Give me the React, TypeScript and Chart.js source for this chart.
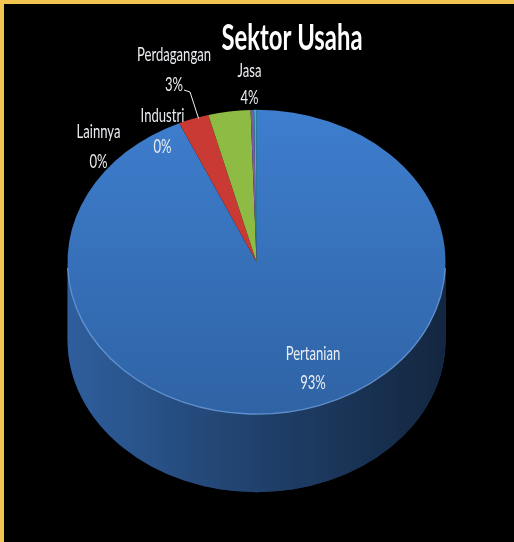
import { useEffect, useRef } from "react";
import { Chart, registerables } from "chart.js";

Chart.register(...registerables);

// ---- data ----
const chartTitle = "Sektor Usaha";
const sectors = ["Pertanian", "Perdagangan", "Jasa", "Industri", "Lainnya"];
const shares = [93.3, 2.6, 3.6, 0.3, 0.2];
const sliceColors = ["#3a76c4", "#c83a33", "#8dbb44", "#7d5aa6", "#39b3d6"];

// ---- style / layout ----
const W = 510;
const H = 538;
const TILT = 0.805; // vertical squash of the pie face
const DEPTH = 78; // thickness of the 3D side wall
const LABEL_FONT = '19px Lato, "Open Sans", sans-serif';
const TITLE_FONT = 'bold 36px Lato, "Open Sans", sans-serif';
const LABEL_REF_WIDTH = 74; // width of "Perdagangan" in the reference
const TITLE_WIDTH = 141;
// label placement: centre x, baseline of name line, baseline of percent line (canvas coords)
const labelAnchors: [number, number, number][] = [
  [309, 356, 385],
  [170, 57, 87],
  [245.5, 73, 99.5],
  [158.5, 118, 149],
  [94.5, 134, 163.5],
];

function drawSquashed(ctx: CanvasRenderingContext2D, text: string, x: number, y: number, sx: number) {
  ctx.save();
  ctx.translate(x, y);
  ctx.scale(sx, 1);
  ctx.fillText(text, 0, 0);
  ctx.restore();
}

const pie3d = {
  id: "pie3d",
  beforeDatasetsDraw(chart: any) {
    const meta = chart.getDatasetMeta(0);
    const a0 = meta.data[0];
    const { x: cx, y: cy, outerRadius: R } = a0.getProps(["x", "y", "outerRadius"], true);
    const ry = R * TILT;
    const ctx: CanvasRenderingContext2D = chart.ctx;
    ctx.save();
    meta.data.forEach((arc: any, i: number) => {
      const { startAngle, endAngle } = arc.getProps(["startAngle", "endAngle"], true);
      for (const off of [0, -2 * Math.PI, 2 * Math.PI]) {
        const s = Math.max(startAngle + off, 0);
        const e = Math.min(endAngle + off, Math.PI);
        if (e <= s) continue;
        const path = () => {
          ctx.beginPath();
          ctx.ellipse(cx, cy, R, ry, 0, s, e, false);
          ctx.ellipse(cx, cy + DEPTH, R, ry, 0, e, s, true);
          ctx.closePath();
        };
        path();
        ctx.fillStyle = sliceColors[i];
        ctx.fill();
        const g = ctx.createLinearGradient(cx - R, 0, cx + R, 0);
        g.addColorStop(0, "rgba(0,0,0,0.2)");
        g.addColorStop(0.5, "rgba(0,0,0,0.45)");
        g.addColorStop(1, "rgba(0,0,0,0.68)");
        path();
        ctx.fillStyle = g;
        ctx.fill();
      }
    });
    ctx.restore();
    ctx.save();
    ctx.translate(0, cy);
    ctx.scale(1, TILT);
    ctx.translate(0, -cy);
  },
  afterDatasetsDraw(chart: any) {
    const ctx: CanvasRenderingContext2D = chart.ctx;
    ctx.restore();
    const meta = chart.getDatasetMeta(0);
    const { x: cx, y: cy, outerRadius: R } = meta.data[0].getProps(["x", "y", "outerRadius"], true);
    const ry = R * TILT;

    // front rim highlight
    ctx.save();
    ctx.beginPath();
    ctx.ellipse(cx, cy, R, ry, 0, 0.04, Math.PI - 0.04);
    ctx.strokeStyle = "rgba(115,165,230,0.75)";
    ctx.lineWidth = 1.3;
    ctx.stroke();
    ctx.restore();

    // title
    ctx.save();
    ctx.fillStyle = "#ffffff";
    ctx.font = TITLE_FONT;
    ctx.textAlign = "center";
    ctx.textBaseline = "alphabetic";
    const tsx = TITLE_WIDTH / ctx.measureText(chartTitle).width;
    drawSquashed(ctx, chartTitle, 288, 46, tsx);
    ctx.restore();

    // data labels
    const data: number[] = chart.data.datasets[0].data;
    const total = data.reduce((a, b) => a + b, 0);
    ctx.save();
    ctx.font = LABEL_FONT;
    ctx.textAlign = "center";
    ctx.textBaseline = "alphabetic";
    ctx.fillStyle = "#e9ecf0";
    const lsx = LABEL_REF_WIDTH / ctx.measureText(String(chart.data.labels[1])).width;
    data.forEach((v, i) => {
      const [lx, y1, y2] = labelAnchors[i];
      drawSquashed(ctx, String(chart.data.labels[i]), lx, y1, lsx);
      drawSquashed(ctx, Math.round((v / total) * 100) + "%", lx, y2, lsx);
    });
    ctx.restore();

    // leader line for Perdagangan
    const arc = meta.data[1];
    const { startAngle, endAngle } = arc.getProps(["startAngle", "endAngle"], true);
    const mid = (startAngle + endAngle) / 2;
    const ex = cx + R * Math.cos(mid);
    const ey = cy + ry * Math.sin(mid);
    const [lx, , y2] = labelAnchors[1];
    ctx.save();
    ctx.beginPath();
    ctx.moveTo(lx + 10, y2 - 1);
    ctx.lineTo(lx + 16, y2 + 1);
    ctx.lineTo(ex + 5, ey);
    ctx.strokeStyle = "#f0f0f0";
    ctx.lineWidth = 1;
    ctx.stroke();
    ctx.restore();
  },
};

export default function App() {
  const ref = useRef<HTMLCanvasElement>(null);
  useEffect(() => {
    const canvas = ref.current!;
    const chart = new Chart(canvas, {
      type: "pie",
      data: {
        labels: sectors,
        datasets: [
          {
            data: shares,
            borderWidth: 0,
            backgroundColor: (c: any) => {
              const i = c.dataIndex;
              const area = c.chart.chartArea;
              if (i !== 0 || !area) return sliceColors[i];
              const g = c.chart.ctx.createLinearGradient(0, area.top, 0, area.bottom);
              g.addColorStop(0, "#3e7ece");
              g.addColorStop(1, "#2f63a5");
              return g;
            },
          },
        ],
      },
      options: {
        responsive: false,
        animation: false,
        events: [],
        layout: { padding: { left: 63, right: 68, top: 69, bottom: 91 } },
        plugins: {
          legend: { display: false },
          tooltip: { enabled: false },
          title: { display: false },
        },
      },
      plugins: [pie3d],
    } as any);
    return () => chart.destroy();
  }, []);
  return (
    <div
      style={{
        position: "fixed",
        left: 0,
        top: 0,
        width: 514,
        height: 542,
        boxSizing: "border-box",
        background: "#000",
        borderTop: "4px solid #F1C550",
        borderLeft: "4px solid #F1C550",
      }}
    >
      <canvas ref={ref} width={W} height={H} style={{ display: "block", width: W, height: H }} />
    </div>
  );
}
